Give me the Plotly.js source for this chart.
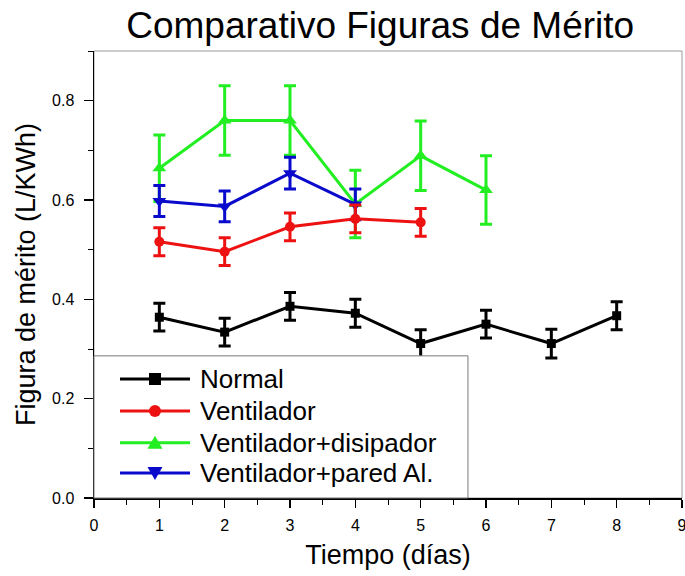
<!DOCTYPE html>
<html><head><meta charset="utf-8">
<script src="https://cdn.plot.ly/plotly-3.0.1.min.js"></script>
<style>body{margin:0;background:#fff}</style>
</head><body><div id="chart" style="width:685px;height:576px"></div>
<script>
// Data
const daysNormal = [1, 2, 3, 4, 5, 6, 7, 8];
const normal = [0.364, 0.334, 0.386, 0.372, 0.311, 0.350, 0.311, 0.367];
const normalErr = [0.028, 0.028, 0.028, 0.028, 0.028, 0.028, 0.029, 0.028];

const daysVent = [1, 2, 3, 4, 5];
const vent = [0.516, 0.496, 0.546, 0.562, 0.555];
const ventErr = [0.028, 0.028, 0.028, 0.028, 0.028];

const daysDisip = [1, 2, 3, 4, 5, 6];
const disip = [0.664, 0.760, 0.760, 0.592, 0.689, 0.620];
const disipErr = [0.067, 0.070, 0.070, 0.068, 0.070, 0.069];

const daysPared = [1, 2, 3, 4];
const pared = [0.598, 0.587, 0.654, 0.591];
const paredErr = [0.031, 0.031, 0.032, 0.031];

const seriesNames = ['Normal', 'Ventilador', 'Ventilador+disipador', 'Ventilador+pared Al.'];
const seriesColors = ['#000000', '#ee1111', '#22ee22', '#0a0acc'];

const xTicks = [0, 1, 2, 3, 4, 5, 6, 7, 8, 9];
const yTicks = [0.0, 0.2, 0.4, 0.6, 0.8];
const yTickText = ['0.0', '0.2', '0.4', '0.6', '0.8'];

const FONT = 'Liberation Sans, Arial, sans-serif';

function series(i, x, y, err, symbol, msize) {
  const color = seriesColors[i];
  return {
    type: 'scatter', mode: 'lines+markers', name: seriesNames[i], x: x, y: y,
    showlegend: false,
    line: {color: color, width: 3},
    marker: {color: color, symbol: symbol, size: msize, line: {width: 0}},
    error_y: {type: 'data', array: err, visible: true, color: color, thickness: 3, width: 6}
  };
}

const data = [
  series(0, daysNormal, normal, normalErr, 'square', 9),
  series(2, daysDisip, disip, disipErr, 'triangle-up', 12),
  series(3, daysPared, pared, paredErr, 'triangle-down', 12),
  series(1, daysVent, vent, ventErr, 'circle', 10)
];

// Legend drawn as a box with sample lines, markers and texts (layout only)
const legRows = [0.2662, 0.1946, 0.1237, 0.0559];
const legLineX0 = 0.0442, legLineX1 = 0.1633, legMarkX = 0.1037, legTextX = 0.1769;
const markerPaths = [
  'M-6,-6 L6,-6 L6,6 L-6,6 Z',
  null,
  'M-7.5,-6 L7.5,-6 L0,7 Z',
  'M-7.5,6 L7.5,6 L0,-7 Z'
];
const shapes = [
  {type: 'rect', xref: 'paper', yref: 'paper', x0: 0, x1: 1, y0: 0, y1: 1,
   line: {color: '#999999', width: 1}, layer: 'below'},
  {type: 'rect', xref: 'paper', yref: 'paper', x0: 0, x1: 0.636, y0: 0, y1: 0.318,
   fillcolor: '#ffffff', line: {color: '#777777', width: 1}, layer: 'above'}
];
const annotations = [];
seriesNames.forEach((nm, i) => {
  const c = seriesColors[i];
  shapes.push({type: 'line', xref: 'paper', yref: 'paper', x0: legLineX0, x1: legLineX1,
    y0: legRows[i], y1: legRows[i], line: {color: c, width: 3}, layer: 'above'});
  if (markerPaths[i]) {
    shapes.push({type: 'path', xref: 'paper', yref: 'paper', xsizemode: 'pixel', ysizemode: 'pixel',
      xanchor: legMarkX, yanchor: legRows[i], path: markerPaths[i],
      fillcolor: c, line: {color: c, width: 0}, layer: 'above'});
  } else {
    shapes.push({type: 'circle', xref: 'paper', yref: 'paper', xsizemode: 'pixel', ysizemode: 'pixel',
      xanchor: legMarkX, yanchor: legRows[i], x0: -6, x1: 6, y0: -6, y1: 6,
      fillcolor: c, line: {color: c, width: 0}, layer: 'above'});
  }
  annotations.push({xref: 'paper', yref: 'paper', x: legTextX, y: legRows[i],
    xanchor: 'left', yanchor: 'middle', showarrow: false, text: nm,
    font: {family: FONT, size: 26, color: '#000'}});
});

const layout = {
  width: 685, height: 576,
  margin: {l: 94, r: 3, t: 51, b: 78},
  paper_bgcolor: '#ffffff', plot_bgcolor: '#ffffff',
  font: {family: FONT, color: '#000000'},
  showlegend: false,
  title: {text: 'Comparativo Figuras de Mérito', font: {family: FONT, size: 37, color: '#000'},
          x: 0.555, xanchor: 'center', y: 0.957, yanchor: 'middle'},
  xaxis: {
    range: [0, 9], tickvals: xTicks, ticktext: xTicks.map(String),
    showgrid: false, zeroline: false, showline: true, linecolor: '#000', linewidth: 1.5,
    ticks: 'outside', ticklen: 8, tickwidth: 1.5, tickcolor: '#000', ticklabeloverflow: 'allow',
    tickfont: {family: FONT, size: 16, color: '#000'}, ticklabelstandoff: 4,
    minor: {dtick: 0.5, tick0: 0, ticks: 'outside', ticklen: 5, tickwidth: 1, tickcolor: '#000', showgrid: false},
    title: {text: 'Tiempo (días)', font: {family: FONT, size: 27, color: '#000'}, standoff: 12}
  },
  yaxis: {
    range: [0, 0.9], tickvals: yTicks, ticktext: yTickText,
    showgrid: false, zeroline: false, showline: true, linecolor: '#000', linewidth: 1.5,
    ticks: 'outside', ticklen: 9, tickwidth: 1.5, tickcolor: '#000',
    tickfont: {family: FONT, size: 16, color: '#000'}, ticklabelstandoff: 6,
    minor: {dtick: 0.1, tick0: 0, ticks: 'outside', ticklen: 5, tickwidth: 1, tickcolor: '#000', showgrid: false},
    title: {text: 'Figura de mérito (L/KWh)', font: {family: FONT, size: 27, color: '#000'}, standoff: 8}
  },
  shapes: shapes,
  annotations: annotations
};

Plotly.newPlot('chart', data, layout, {displayModeBar: false, staticPlot: true});
</script>
</body></html>
